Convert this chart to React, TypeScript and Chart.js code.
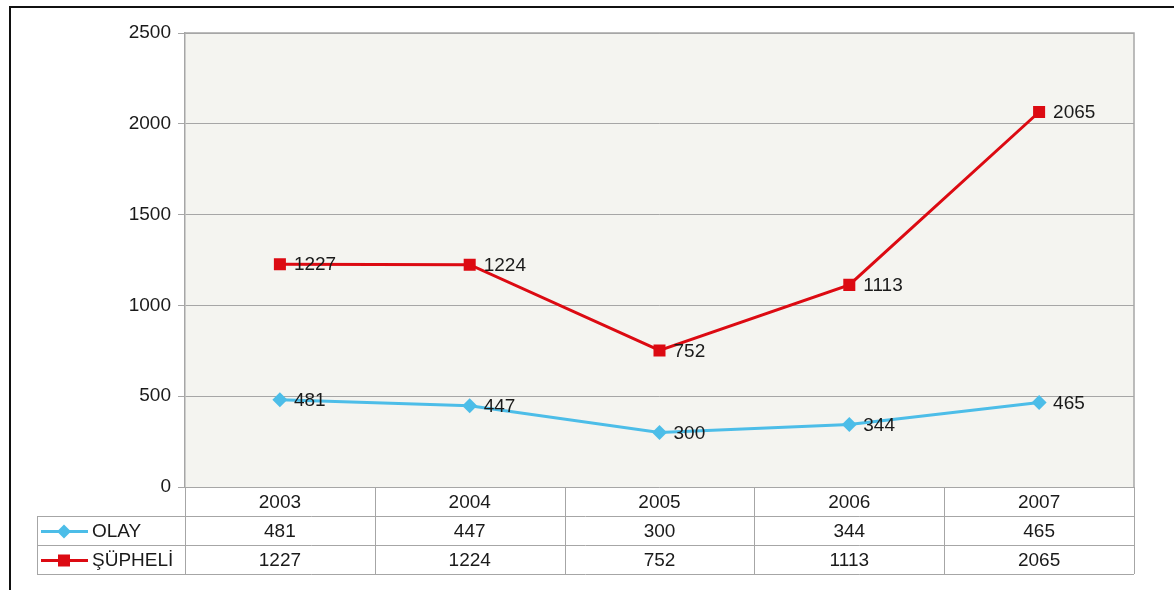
import React, { useEffect, useRef } from "react";
import { Chart, registerables } from "chart.js";

Chart.register(...registerables);

const years = ["2003", "2004", "2005", "2006", "2007"];
const olay = [481, 447, 300, 344, 465];
const supheli = [1227, 1224, 752, 1113, 2065];
const seriesNames = ["OLAY", "ŞÜPHELİ"];
const yTicks = [0, 500, 1000, 1500, 2000, 2500];

const FAMILY = "'Liberation Sans', Arial, sans-serif";
const FONT = "19px " + FAMILY;
const BLUE = "#4cbde8";
const RED = "#dc0a12";
const LINE_GRAY = "#a6a6a6";
const TEXT = "#1a1a1a";

const framePlugin = {
  id: "frame",
  beforeDraw(chart: any) {
    const { ctx, chartArea } = chart;
    ctx.save();
    ctx.fillStyle = "#ffffff";
    ctx.fillRect(0, 0, chart.width, chart.height);
    ctx.fillStyle = "#f4f4f0";
    ctx.fillRect(chartArea.left, chartArea.top, chartArea.right - chartArea.left, chartArea.bottom - chartArea.top);
    ctx.strokeStyle = "#111";
    ctx.lineWidth = 2;
    ctx.beginPath();
    ctx.moveTo(10, chart.height);
    ctx.lineTo(10, 7);
    ctx.lineTo(chart.width, 7);
    ctx.stroke();
    ctx.restore();
  },
  afterDraw(chart: any) {
    const { ctx, chartArea } = chart;
    const x = chart.scales.x;
    ctx.save();
    ctx.strokeStyle = LINE_GRAY;
    ctx.lineWidth = 1.5;
    ctx.beginPath();
    ctx.moveTo(chartArea.left, chartArea.top);
    ctx.lineTo(chartArea.right, chartArea.top);
    ctx.lineTo(chartArea.right, chartArea.bottom);
    ctx.stroke();

    // data table
    const top = chartArea.bottom;
    const rowH = 29;
    const legendLeft = 37;
    const n = years.length;
    const step = (chartArea.right - chartArea.left) / n;
    ctx.lineWidth = 1;
    ctx.strokeStyle = LINE_GRAY;
    ctx.beginPath();
    for (let r = 1; r <= 3; r++) {
      const y = Math.round(top + r * rowH) + 0.5;
      ctx.moveTo(legendLeft, y);
      ctx.lineTo(chartArea.right, y);
    }
    for (let i = 0; i <= n; i++) {
      const xx = Math.round(chartArea.left + i * step) + 0.5;
      ctx.moveTo(xx, top);
      ctx.lineTo(xx, top + 3 * rowH);
    }
    ctx.moveTo(legendLeft + 0.5, top + rowH);
    ctx.lineTo(legendLeft + 0.5, top + 3 * rowH);
    ctx.stroke();

    ctx.font = FONT;
    ctx.fillStyle = TEXT;
    ctx.textAlign = "center";
    ctx.textBaseline = "middle";
    const rows = [olay, supheli];
    years.forEach((yr, i) => {
      const cx = x.getPixelForValue(i);
      ctx.fillText(yr, cx, top + rowH * 0.5 + 1);
      rows.forEach((vals, r) => {
        ctx.fillText(String(vals[i]), cx, top + rowH * (r + 1.5) + 1);
      });
    });

    // legend keys
    const colors = [BLUE, RED];
    seriesNames.forEach((name, r) => {
      const cy = top + rowH * (r + 1.5) + 1;
      ctx.strokeStyle = colors[r];
      ctx.lineWidth = 3;
      ctx.beginPath();
      ctx.moveTo(41, cy);
      ctx.lineTo(88, cy);
      ctx.stroke();
      ctx.fillStyle = colors[r];
      if (r === 0) {
        ctx.beginPath();
        ctx.moveTo(64, cy - 7);
        ctx.lineTo(71, cy);
        ctx.lineTo(64, cy + 7);
        ctx.lineTo(57, cy);
        ctx.closePath();
        ctx.fill();
      } else {
        ctx.fillRect(58, cy - 6, 12, 12);
      }
      ctx.fillStyle = TEXT;
      ctx.textAlign = "left";
      ctx.fillText(name, 92, cy);
    });

    // data labels
    ctx.textAlign = "left";
    ctx.textBaseline = "middle";
    ctx.fillStyle = TEXT;
    chart.data.datasets.forEach((ds: any, di: number) => {
      const meta = chart.getDatasetMeta(di);
      meta.data.forEach((pt: any, i: number) => {
        ctx.fillText(String(ds.data[i]), pt.x + 14, pt.y + 1);
      });
    });
    ctx.restore();
  },
};

export default function App() {
  const ref = useRef<HTMLCanvasElement>(null);
  useEffect(() => {
    const chart = new Chart(ref.current!, {
      type: "line",
      data: {
        labels: years,
        datasets: [
          {
            label: seriesNames[0],
            data: olay,
            borderColor: BLUE,
            backgroundColor: BLUE,
            borderWidth: 3,
            pointStyle: "rectRot",
            pointRadius: 7.5,
            pointBorderWidth: 0,
          },
          {
            label: seriesNames[1],
            data: supheli,
            borderColor: RED,
            backgroundColor: RED,
            borderWidth: 3,
            pointStyle: "rect",
            pointRadius: 8.5,
            pointBorderWidth: 0,
          },
        ],
      },
      options: {
        animation: false,
        responsive: false,
        layout: { padding: { left: 0, top: 33, right: 40, bottom: 103 } },
        plugins: { legend: { display: false }, tooltip: { enabled: false } },
        scales: {
          x: { type: "category", offset: true, display: false },
          y: {
            min: 0,
            max: 2500,
            afterBuildTicks(scale: any) {
              scale.ticks = yTicks.map((v) => ({ value: v }));
            },
            afterFit(scale: any) {
              scale.width = 185;
            },
            grid: { color: LINE_GRAY, lineWidth: 1, tickLength: 7, drawTicks: true },
            border: { display: true, color: LINE_GRAY, width: 1.5 },
            ticks: {
              padding: 7,
              color: TEXT,
              font: { family: FAMILY, size: 19 },
              callback: (v: any) => String(v),
            },
          },
        },
      },
      plugins: [framePlugin],
    } as any);
    return () => chart.destroy();
  }, []);
  return (
    <div style={{ position: "fixed", left: 0, top: 0, width: 1174, height: 590 }}>
      <canvas ref={ref} width={1174} height={590} style={{ width: 1174, height: 590 }} />
    </div>
  );
}
